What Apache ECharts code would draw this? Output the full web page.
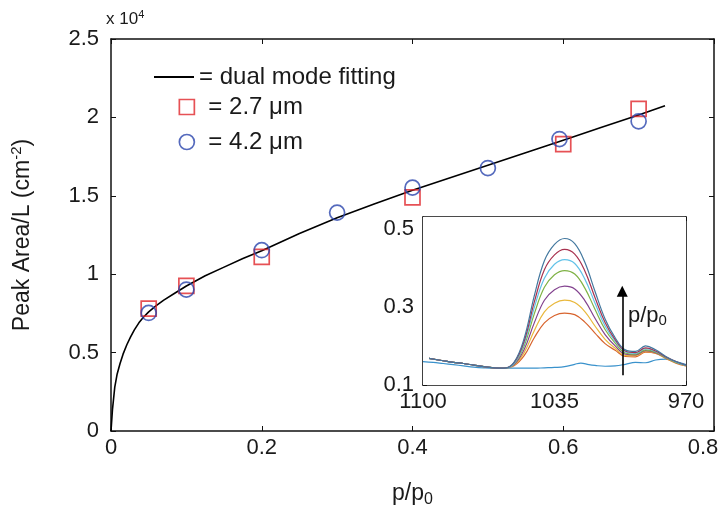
<!DOCTYPE html>
<html>
<head>
<meta charset="utf-8">
<script src="https://cdn.jsdelivr.net/npm/echarts@6/dist/echarts.min.js"></script>
<style>
  html, body { margin: 0; padding: 0; background: #fff; }
  #chart { width: 721px; height: 506px; }
</style>
</head>
<body>
<div id="chart"></div>
<script>
// Peak area per thickness (x 10^4 cm^-2) against relative pressure p/p0
const fitP = [0, 0.002, 0.005, 0.008, 0.012, 0.016, 0.021, 0.026, 0.031, 0.037, 0.043, 0.05,
  0.06, 0.07, 0.085, 0.1, 0.125, 0.15, 0.175, 0.2, 0.25, 0.3, 0.35, 0.4, 0.45, 0.5,
  0.55, 0.6, 0.65, 0.7, 0.735];
const fitArea = [0, 0.14, 0.28, 0.36, 0.43, 0.49, 0.55, 0.6, 0.645, 0.69, 0.725, 0.76,
  0.8, 0.835, 0.88, 0.925, 0.99, 1.045, 1.1, 1.15, 1.26, 1.36, 1.45, 1.535, 1.615, 1.695,
  1.775, 1.855, 1.935, 2.015, 2.075];

// 2.7 um film
const p27 = [0.05, 0.1, 0.2, 0.4, 0.6, 0.7];
const area27 = [0.78, 0.925, 1.11, 1.49, 1.83, 2.055];

// 4.2 um film
const p42 = [0.05, 0.1, 0.2, 0.3, 0.4, 0.5, 0.595, 0.7];
const area42 = [0.753, 0.902, 1.153, 1.393, 1.552, 1.677, 1.862, 1.975];

// Inset: IR absorbance spectra, wavenumber (cm^-1)
const wavenumbers = [1097, 1090, 1085, 1080, 1075, 1070, 1065, 1060, 1055, 1050, 1045, 1040,
  1035, 1030, 1025, 1020, 1015, 1010, 1005, 1000, 995, 990, 985, 980, 975, 970];
const absOrange = [0.168, 0.162, 0.158, 0.155, 0.151, 0.147, 0.144, 0.143, 0.149, 0.175, 0.221, 0.259,
  0.278, 0.284, 0.28, 0.261, 0.233, 0.206, 0.189, 0.173, 0.172, 0.184, 0.181, 0.168, 0.156, 0.149];
const absYellow = [0.168, 0.162, 0.158, 0.155, 0.151, 0.147, 0.144, 0.143, 0.151, 0.183, 0.239, 0.287,
  0.309, 0.317, 0.311, 0.288, 0.251, 0.217, 0.194, 0.176, 0.175, 0.186, 0.182, 0.169, 0.157, 0.149];
const absPurple = [0.168, 0.162, 0.158, 0.155, 0.151, 0.147, 0.144, 0.143, 0.152, 0.191, 0.259, 0.317,
  0.344, 0.353, 0.346, 0.316, 0.271, 0.229, 0.2, 0.179, 0.177, 0.188, 0.183, 0.17, 0.158, 0.15];
const absGreen = [0.168, 0.162, 0.158, 0.155, 0.151, 0.147, 0.144, 0.143, 0.154, 0.2, 0.282, 0.35,
  0.382, 0.393, 0.384, 0.348, 0.294, 0.242, 0.207, 0.182, 0.179, 0.19, 0.184, 0.17, 0.158, 0.15];
const absCyan = [0.168, 0.162, 0.158, 0.155, 0.151, 0.147, 0.144, 0.143, 0.155, 0.206, 0.298, 0.373,
  0.409, 0.421, 0.411, 0.371, 0.31, 0.251, 0.212, 0.185, 0.181, 0.193, 0.186, 0.171, 0.159, 0.15];
const absRed = [0.168, 0.162, 0.158, 0.155, 0.151, 0.147, 0.144, 0.143, 0.157, 0.212, 0.312, 0.395,
  0.433, 0.447, 0.435, 0.392, 0.324, 0.26, 0.216, 0.187, 0.183, 0.195, 0.187, 0.172, 0.16, 0.151];
const absBlue = [0.168, 0.162, 0.158, 0.155, 0.151, 0.147, 0.144, 0.143, 0.158, 0.219, 0.328, 0.418,
  0.46, 0.475, 0.462, 0.414, 0.34, 0.269, 0.221, 0.19, 0.186, 0.2, 0.19, 0.173, 0.16, 0.151];

const baseWavenumbers = [1100, 1095, 1090, 1085, 1080, 1075, 1070, 1065, 1060, 1055, 1050, 1045,
  1040, 1035, 1030, 1025, 1022, 1018, 1015, 1010, 1005, 1000, 995, 990, 985, 980, 975, 970];
const absBaseline = [0.16, 0.158, 0.155, 0.152, 0.149, 0.146, 0.144, 0.143, 0.143, 0.143, 0.143, 0.143,
  0.144, 0.145, 0.147, 0.153, 0.156, 0.152, 0.15, 0.148, 0.149, 0.153, 0.158, 0.157, 0.164, 0.166, 0.16, 0.152];

const insetXTicks = [970, 1035, 1100];
const insetYLabels = [0.1, 0.3, 0.5];
const insetYTicks = [0.1, 0.2, 0.3, 0.4, 0.5];

// Arrow showing increasing p/p0 (wavenumber, absorbance from -> to)
const arrowWn = 1001.5;
const arrowFrom = 0.125;
const arrowTo = 0.34;

const FONT = "'Liberation Sans', Arial, Helvetica, sans-serif";
const INK = '#1a1a1a';
const AXIS = '#111';

const zip = (xs, ys) => xs.map((x, i) => [x, ys[i]]);

const chart = echarts.init(document.getElementById('chart'), null, { renderer: 'canvas' });

function boxAxis(extra) {
  return Object.assign({
    type: 'value',
    axisLine: { show: true, onZero: false, lineStyle: { color: AXIS, width: 1.5 } },
    axisTick: { show: true, inside: true, length: 5, lineStyle: { color: AXIS, width: 1 } },
    axisLabel: { show: false },
    splitLine: { show: false }
  }, extra);
}

const labelStyle = (size, margin) => ({ show: true, fontSize: size, color: INK, fontFamily: FONT, margin: margin });
const legendText = (pad) => ({ fontSize: 24, color: INK, fontFamily: FONT, padding: [0, 0, 0, pad] });

const spectra = [
  { name: 'base', wn: baseWavenumbers, v: absBaseline, color: '#3a92cc' },
  { name: 's1', wn: wavenumbers, v: absOrange, color: '#d8642e' },
  { name: 's2', wn: wavenumbers, v: absYellow, color: '#e9b83c' },
  { name: 's3', wn: wavenumbers, v: absPurple, color: '#83438f' },
  { name: 's4', wn: wavenumbers, v: absGreen, color: '#7fb245' },
  { name: 's5', wn: wavenumbers, v: absCyan, color: '#62c2e8' },
  { name: 's6', wn: wavenumbers, v: absRed, color: '#a8324f' },
  { name: 's7', wn: wavenumbers, v: absBlue, color: '#43789f' }
];

const spectraSeries = spectra.map((s, i) => {
  const ser = {
    type: 'line',
    name: s.name,
    xAxisIndex: 2,
    yAxisIndex: 2,
    data: zip(s.wn, s.v),
    showSymbol: false,
    symbol: 'none',
    smooth: 0.4,
    lineStyle: { color: s.color, width: 1.2 },
    z: 3 + i * 0.01,
    silent: true
  };
  if (i === 0) {
    ser.markLine = {
      silent: true,
      symbol: ['none', 'triangle'],
      symbolSize: 11,
      lineStyle: { color: '#000', width: 1.6, type: 'solid' },
      label: { show: false },
      data: [[{ coord: [arrowWn, arrowFrom] }, { coord: [arrowWn, arrowTo] }]]
    };
  }
  return ser;
});

// main x labels; the last one is nudged inward so it stays on the canvas
const mainXLabel = Object.assign(labelStyle(22, 6), {
  formatter: v => (v >= 0.8 ? '{last|' + v + '}' : String(v)),
  rich: { last: { fontSize: 22, color: INK, fontFamily: FONT, padding: [0, 22, 0, 0] } }
});

const option = {
  animation: false,
  backgroundColor: '#fff',
  textStyle: { fontFamily: FONT },
  grid: [
    { left: 111, right: 7, top: 39, bottom: 75, outerBoundsMode: 'none', containLabel: false },
    { left: 423, top: 217, width: 263, height: 168, outerBoundsMode: 'none', containLabel: false,
      show: true, backgroundColor: '#fff', borderWidth: 0, z: 1 }
  ],
  legend: [
    {
      data: [{ name: 'dual mode fitting', icon: 'rect' }], left: 154, top: 65, padding: 0, selectedMode: false,
      itemWidth: 40, itemHeight: 2, symbolKeepAspect: false, formatter: '= {name}',
      itemStyle: { color: '#000', borderWidth: 0 },
      textStyle: legendText(0)
    },
    {
      data: ['2.7 μm'], left: 178.5, top: 95, padding: 0, selectedMode: false,
      itemWidth: 15, itemHeight: 15, formatter: '= {name}',
      itemStyle: { borderWidth: 1.7 },
      textStyle: legendText(9)
    },
    {
      data: ['4.2 μm'], left: 178.5, top: 130, padding: 0, selectedMode: false,
      itemWidth: 15, itemHeight: 15, formatter: '= {name}',
      itemStyle: { borderWidth: 1.7 },
      textStyle: legendText(9)
    }
  ],
  xAxis: [
    boxAxis({
      gridIndex: 0, position: 'bottom', min: 0, max: 0.8, interval: 0.2,
      axisLabel: mainXLabel,
      name: '{t|p/p}{s|0}', nameLocation: 'middle', nameGap: 49,
      nameTextStyle: {
        color: INK, fontFamily: FONT,
        rich: {
          t: { fontSize: 23, color: INK, fontFamily: FONT, lineHeight: 28 },
          s: { fontSize: 16, color: INK, fontFamily: FONT, verticalAlign: 'bottom', lineHeight: 24 }
        }
      }
    }),
    boxAxis({ gridIndex: 0, position: 'top', min: 0, max: 0.8, interval: 0.2 }),
    boxAxis({
      gridIndex: 1, position: 'bottom', min: 970, max: 1100, inverse: true,
      axisLine: { show: true, onZero: false, lineStyle: { color: AXIS, width: 1.6 } },
      axisTick: { show: true, inside: true, length: 4, customValues: insetXTicks, lineStyle: { color: AXIS, width: 1 } },
      axisLabel: Object.assign(labelStyle(22, 6), { customValues: insetXTicks, formatter: v => String(v) })
    }),
    boxAxis({
      gridIndex: 1, position: 'top', min: 970, max: 1100, inverse: true,
      axisLine: { show: true, onZero: false, lineStyle: { color: AXIS, width: 1.6 } },
      axisTick: { show: true, inside: true, length: 4, customValues: insetXTicks, lineStyle: { color: AXIS, width: 1 } }
    })
  ],
  yAxis: [
    boxAxis({
      gridIndex: 0, position: 'left', min: 0, max: 2.5, interval: 0.5,
      axisLabel: labelStyle(22, 12),
      name: '{t|Peak Area/L (cm}{s|-2}{t|)}', nameLocation: 'middle', nameGap: 74, nameRotate: 90,
      nameTextStyle: {
        color: INK, fontFamily: FONT,
        rich: {
          t: { fontSize: 23, color: INK, fontFamily: FONT, lineHeight: 28 },
          s: { fontSize: 15, color: INK, fontFamily: FONT, verticalAlign: 'top', lineHeight: 18 }
        }
      }
    }),
    boxAxis({ gridIndex: 0, position: 'right', min: 0, max: 2.5, interval: 0.5 }),
    boxAxis({
      gridIndex: 1, position: 'left', min: 0.1, max: 0.53,
      axisLine: { show: true, onZero: false, lineStyle: { color: AXIS, width: 1.6 } },
      axisTick: { show: true, inside: true, length: 4, customValues: insetYTicks, lineStyle: { color: AXIS, width: 1 } },
      axisLabel: Object.assign(labelStyle(22, 9), { customValues: insetYLabels, formatter: v => v.toFixed(1) })
    }),
    boxAxis({
      gridIndex: 1, position: 'right', min: 0.1, max: 0.53,
      axisLine: { show: true, onZero: false, lineStyle: { color: AXIS, width: 1.6 } },
      axisTick: { show: true, inside: true, length: 4, customValues: insetYTicks, lineStyle: { color: AXIS, width: 1 } }
    })
  ],
  series: [
    {
      type: 'line',
      name: 'dual mode fitting',
      xAxisIndex: 0, yAxisIndex: 0,
      data: zip(fitP, fitArea),
      showSymbol: false,
      symbol: 'none',
      smooth: false,
      lineStyle: { color: '#000', width: 1.6 },
      itemStyle: { color: '#000' },
      z: 2
    },
    {
      type: 'scatter',
      name: '2.7 μm',
      xAxisIndex: 0, yAxisIndex: 0,
      data: zip(p27, area27),
      symbol: 'rect',
      symbolSize: 15,
      itemStyle: { color: 'rgba(0,0,0,0)', borderColor: '#e0262b', borderWidth: 1.7 },
      z: 3
    },
    {
      type: 'scatter',
      name: '4.2 μm',
      xAxisIndex: 0, yAxisIndex: 0,
      data: zip(p42, area42),
      symbol: 'circle',
      symbolSize: 15,
      itemStyle: { color: 'rgba(0,0,0,0)', borderColor: '#2a45ad', borderWidth: 1.7 },
      z: 4
    }
  ].concat(spectraSeries)
};

chart.setOption(option);

// Axis multiplier and inset annotation as text
const annot = chart.convertToPixel({ gridIndex: 1 }, [998.7, 0.277]);
chart.setOption({
  graphic: [
    {
      type: 'text', left: 106, top: 9, z: 10,
      style: {
        text: '{t|x 10}{s|4}',
        rich: {
          t: { fontSize: 17, fill: INK, fontFamily: FONT, lineHeight: 20 },
          s: { fontSize: 11, fill: INK, fontFamily: FONT, verticalAlign: 'top', lineHeight: 12 }
        }
      }
    },
    {
      type: 'text', x: annot[0], y: annot[1], z: 10,
      style: {
        text: '{t|p/p}{s|0}',
        verticalAlign: 'middle',
        rich: {
          t: { fontSize: 22, fill: INK, fontFamily: FONT, lineHeight: 26 },
          s: { fontSize: 15, fill: INK, fontFamily: FONT, verticalAlign: 'bottom', lineHeight: 22 }
        }
      }
    }
  ]
});
</script>
</body>
</html>
